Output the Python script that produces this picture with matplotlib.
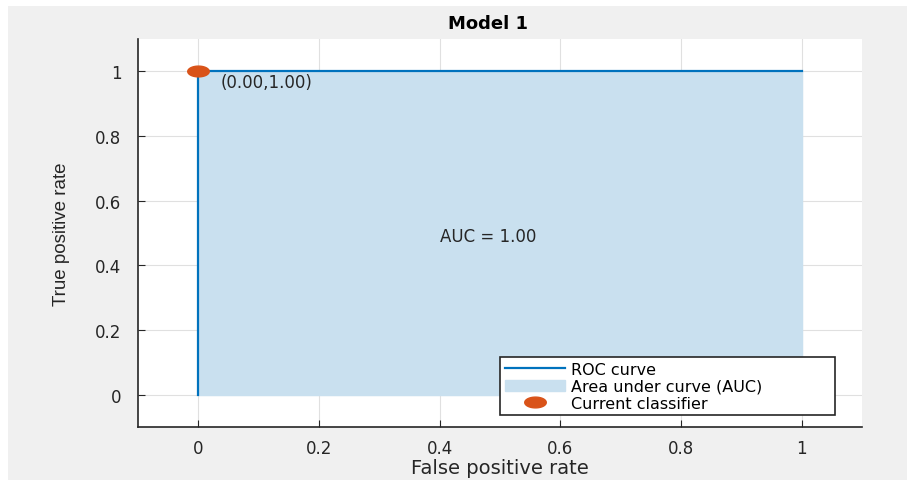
import matplotlib.pyplot as plt
from matplotlib.path import Path
import numpy as np

# ROC data for the model
fpr = [0.0, 0.0, 1.0]
tpr = [0.0, 1.0, 1.0]
current_point = (0.0, 1.0)
auc_value = 1.00
xticks = [0, 0.2, 0.4, 0.6, 0.8, 1]
yticks = [0, 0.2, 0.4, 0.6, 0.8, 1]
tick_labels = ['0', '0.2', '0.4', '0.6', '0.8', '1']

plt.rcParams['font.family'] = ['DejaVu Sans']
dark = '#262626'

# the screenshot is stretched sideways, so the dot is a flat ellipse
t = np.linspace(0, 2 * np.pi, 60)
ellipse = Path(np.column_stack([np.cos(t), 0.5 * np.sin(t)]), closed=True)

fig = plt.figure(figsize=(9.07, 4.81), dpi=100)
fig.patch.set_facecolor('white')
# grey window background like MATLAB figure
bg = plt.Rectangle((8 / 907, 0), 1 - 8 / 907, 1 - 7 / 481, transform=fig.transFigure,
                   facecolor='#f0f0f0', edgecolor='none', zorder=-10)
fig.patches.append(bg)

ax = fig.add_axes([138 / 907, 1 - 428 / 481, (862 - 138) / 907, (428 - 40) / 481])
ax.set_facecolor('white')

ax.fill_between(fpr, tpr, color='#c9e0ef', label='Area under curve (AUC)', zorder=1)
ax.plot(fpr, tpr, color='#0072BD', lw=1.6, label='ROC curve', zorder=2)
ax.plot(*current_point, marker=ellipse, ls='none', color='#D95319', ms=15.5,
        label='Current classifier', zorder=3, clip_on=False)

ax.text(current_point[0] + 0.037, current_point[1] - 0.033, '(%.2f,%.2f)' % current_point,
        fontsize=12, color=dark, va='center')
ax.text(0.48, 0.49, 'AUC = %.2f' % auc_value, fontsize=12, color=dark,
        ha='center', va='center')

ax.set_xlim(-0.1, 1.1)
ax.set_ylim(-0.1, 1.1)
ax.set_xticks(xticks)
ax.set_yticks(yticks)
ax.set_xticklabels(tick_labels)
ax.set_yticklabels(tick_labels)
ax.grid(True, color='#e0e0e0', lw=0.8)
ax.set_axisbelow(True)
ax.tick_params(direction='in', length=5, color=dark, labelcolor=dark,
               labelsize=12)
ax.tick_params(axis='y', pad=12)
ax.tick_params(axis='x', pad=9)
for s in ['top', 'right']:
    ax.spines[s].set_visible(False)
for s in ['left', 'bottom']:
    ax.spines[s].set_color(dark)
    ax.spines[s].set_linewidth(1.2)

ax.set_xlabel('False positive rate', fontsize=14, color=dark, labelpad=0)
ax.set_ylabel('True positive rate', fontsize=13.5, color=dark, labelpad=18,
              family='Liberation Sans')
ax.set_title('Model 1', fontsize=13, fontweight='bold', color='black', pad=8,
             x=0.483)

handles, labels = ax.get_legend_handles_labels()
order = [labels.index('ROC curve'), labels.index('Area under curve (AUC)'),
         labels.index('Current classifier')]
leg_left, leg_right, leg_top = 500 / 907, 835 / 907, 1 - 358 / 481
leg = ax.legend([handles[i] for i in order], [labels[i] for i in order],
                loc='upper left', mode='expand',
                bbox_to_anchor=(leg_left, leg_top - 0.1, leg_right - leg_left, 0.1),
                bbox_transform=fig.transFigure, fontsize=11.5, frameon=True,
                fancybox=False, edgecolor=dark, framealpha=1, markerscale=1,
                borderpad=0.3, labelspacing=0.12, handlelength=3.8, handletextpad=0.35,
                borderaxespad=0)
leg.get_frame().set_linewidth(1.2)

fig.savefig('out.png', dpi=100)
